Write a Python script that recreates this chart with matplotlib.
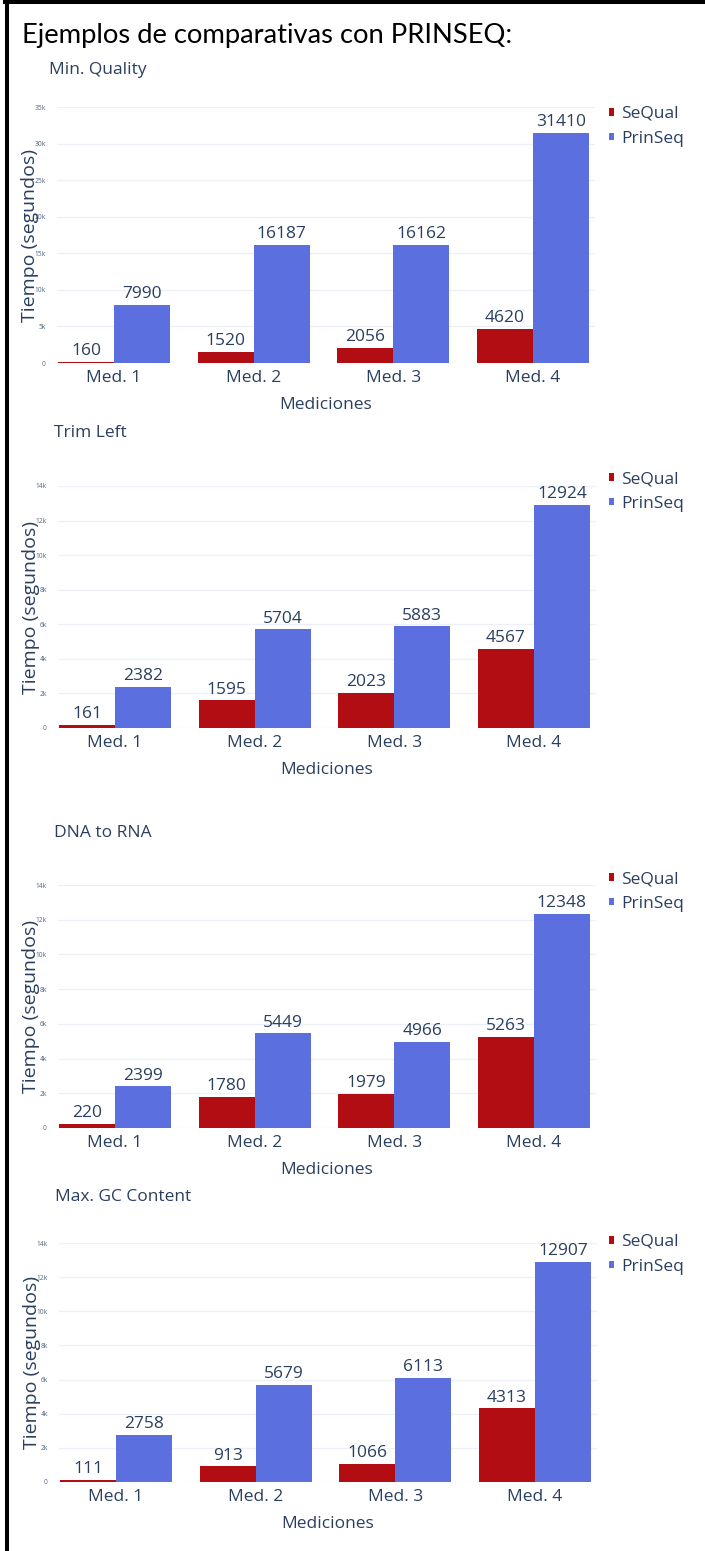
import matplotlib
matplotlib.use("Agg")
import matplotlib.pyplot as plt
from matplotlib.lines import Line2D
import numpy as np

categories = ["Med. 1", "Med. 2", "Med. 3", "Med. 4"]
titles = ["Min. Quality", "Trim Left", "DNA to RNA", "Max. GC Content"]

sequal = [
    [160, 1520, 2056, 4620],
    [161, 1595, 2023, 4567],
    [220, 1780, 1979, 5263],
    [111, 913, 1066, 4313],
]
prinseq = [
    [7990, 16187, 16162, 31410],
    [2382, 5704, 5883, 12924],
    [2399, 5449, 4966, 12348],
    [2758, 5679, 6113, 12907],
]
y_max = [35000, 14000, 14000, 14000]
y_step = [5000, 2000, 2000, 2000]

RED = "#b10d12"
BLUE = "#5b6fdf"
TEXT = "#2a3f5f"
GRID = "#edf0f6"

W, H = 705, 1551
plt.rcParams["font.family"] = ["Open Sans", "DejaVu Sans"]

fig = plt.figure(figsize=(W / 100, H / 100), dpi=100)

# pixel layout of each panel: (axes top, axes bottom, title y, title x, legend y, x shift)
panels = [
    (107, 363, 70, 49, 104, 0),
    (486, 728, 433, 54, 469, 1),
    (885, 1128, 833, 54, 869, 1),
    (1243, 1482, 1197, 55, 1232, 2),
]
ax_left, ax_right = 57, 595

x = np.arange(len(categories))
w = 0.4

for i, (top, bottom, ty, tx, ly, dx) in enumerate(panels):
    ax = fig.add_axes([(ax_left + dx) / W, 1 - bottom / H,
                       (ax_right - ax_left) / W, (bottom - top) / H])
    b1 = ax.bar(x - w / 2, sequal[i], w, color=RED, label="SeQual", zorder=3)
    b2 = ax.bar(x + w / 2, prinseq[i], w, color=BLUE, label="PrinSeq", zorder=3)
    for bars, vals in ((b1, sequal[i]), (b2, prinseq[i])):
        for rect, v in zip(bars, vals):
            ax.annotate(str(v), (rect.get_x() + rect.get_width() / 2, v),
                        xytext=(0, 2), textcoords="offset points",
                        ha="center", va="bottom", fontsize=12.5, color=TEXT)

    ax.set_xlim(-0.408, 3.444)
    ax.set_ylim(0, y_max[i])
    ticks = np.arange(0, y_max[i] + 1, y_step[i])
    ax.set_yticks(ticks)
    ax.set_yticklabels(["0" if t == 0 else f"{int(t / 1000)}k" for t in ticks])
    ax.tick_params(axis="y", length=0, pad=8, labelsize=4.8, labelcolor="#506784")
    ax.set_xticks(x)
    ax.set_xticklabels(categories)
    ax.tick_params(axis="x", length=0, pad=5, labelsize=12.5, labelcolor=TEXT)
    ax.grid(axis="y", color=GRID, linewidth=1, zorder=0)
    for s in ax.spines.values():
        s.set_visible(False)

    ax.set_xlabel("Mediciones", fontsize=12.5, color=TEXT, labelpad=8)
    ax.set_ylabel("Tiempo (segundos)", fontsize=14, color=TEXT)
    ax.yaxis.set_label_coords((30 - ax_left) / (ax_right - ax_left), 0.5)
    ax.yaxis.label.set_va("center")

    fig.text(tx / W, 1 - ty / H, titles[i], fontsize=12.5, color=TEXT,
             ha="left", va="center")

    ax.legend(handles=[b1, b2], loc="upper left",
              bbox_to_anchor=(609 / W, 1 - (ly + 2) / H), bbox_transform=fig.transFigure,
              frameon=False, fontsize=12.5, labelcolor=TEXT, borderpad=0,
              handlelength=0.3, handleheight=0.3, handletextpad=0.4,
              labelspacing=0.5, borderaxespad=0)

fig.text(22 / W, 1 - 35 / H, "Ejemplos de comparativas con PRINSEQ:",
         fontsize=19.7, color="black", ha="left", va="center",
         family=["Lato", "DejaVu Sans"])

# black frame on the left and top edges
fig.add_artist(Line2D([7 / W, 7 / W], [0, 1], color="black", linewidth=2.9,
                      transform=fig.transFigure))
fig.add_artist(Line2D([5 / W, 1], [1 - 2 / H, 1 - 2 / H], color="black",
                      linewidth=2.9, transform=fig.transFigure))

fig.savefig("out.png", dpi=100)
